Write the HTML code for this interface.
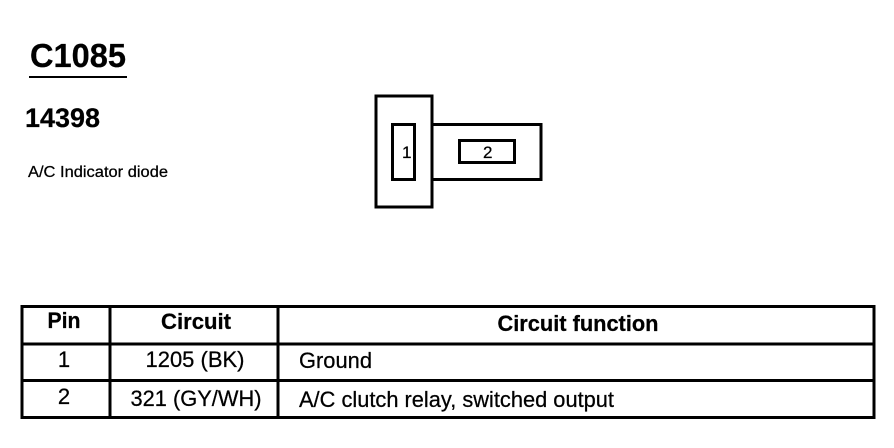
<!DOCTYPE html>
<html>
<head>
<meta charset="utf-8">
<style>
html,body{margin:0;padding:0;background:#fff;width:894px;height:448px;overflow:hidden}
svg{display:block}
text{font-family:"Liberation Sans",Arial,sans-serif;fill:#000;stroke:#000;stroke-width:.25}
.b{font-weight:bold}
</style>
</head>
<body>
<svg width="894" height="448" viewBox="0 0 894 448" xmlns="http://www.w3.org/2000/svg">
<rect width="894" height="448" fill="#fff"/>
<text x="30" y="67" class="b" font-size="33" textLength="96" lengthAdjust="spacingAndGlyphs">C1085</text>
<rect x="29" y="76" width="98" height="2" fill="#000"/>
<text x="25" y="127" class="b" font-size="27" textLength="75" lengthAdjust="spacingAndGlyphs">14398</text>
<text x="28" y="177" font-size="15.500" textLength="140" lengthAdjust="spacingAndGlyphs">A/C Indicator diode</text>

<g fill="none" stroke="#000" stroke-width="3" shape-rendering="crispEdges">
<rect x="376" y="96" width="56" height="111"/>
<path d="M432 124.500H541V179.500H432"/>
<rect x="392.500" y="124.500" width="22" height="55"/>
<rect x="459.500" y="140.500" width="55" height="22"/>
</g>
<text x="402" y="158" font-size="17">1</text>
<text x="483" y="158" font-size="17">2</text>

<g fill="none" stroke="#000" stroke-width="3" shape-rendering="crispEdges">
<rect x="22" y="306.500" width="852" height="111"/>
<path d="M22 344H874M22 380.500H874M110 306V418M278 306V418"/>
</g>
<g font-size="22">
<text x="64" y="328" class="b" text-anchor="middle" textLength="33" lengthAdjust="spacingAndGlyphs">Pin</text>
<text x="196" y="329" class="b" text-anchor="middle" textLength="70" lengthAdjust="spacingAndGlyphs">Circuit</text>
<text x="578" y="331" class="b" text-anchor="middle" textLength="161" lengthAdjust="spacingAndGlyphs">Circuit function</text>
<text x="64" y="367" text-anchor="middle">1</text>
<text x="195" y="367" text-anchor="middle" textLength="99" lengthAdjust="spacingAndGlyphs">1205 (BK)</text>
<text x="299" y="368" textLength="73" lengthAdjust="spacingAndGlyphs">Ground</text>
<text x="64" y="404" text-anchor="middle">2</text>
<text x="196" y="406" text-anchor="middle" textLength="131" lengthAdjust="spacingAndGlyphs">321 (GY/WH)</text>
<text x="299" y="407" textLength="315" lengthAdjust="spacingAndGlyphs">A/C clutch relay, switched output</text>
</g>
</svg>
</body>
</html>
